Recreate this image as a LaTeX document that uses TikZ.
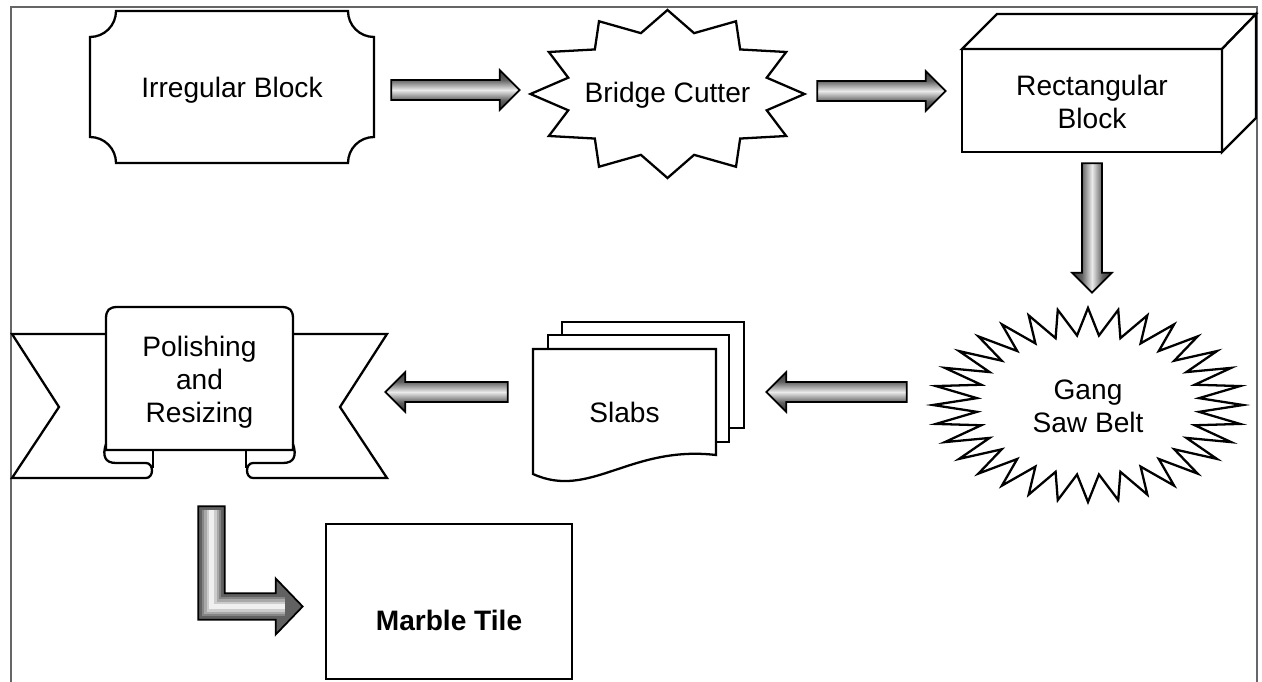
\documentclass[tikz,border=0pt]{standalone}
\usepackage{fontspec}
\setmainfont{Liberation Sans}
\usetikzlibrary{calc}

\pgfdeclareverticalshading{fatbar}{100bp}{color(0bp)=(black!78); color(25bp)=(black!78); color(37bp)=(black!62); color(50bp)=(black!8); color(63bp)=(black!62); color(75bp)=(black!78); color(100bp)=(black!78)}

\tikzset{
  outline/.style={draw=black, line width=1.3pt, fill=white},
  boxtext/.style={font=\fontsize{16}{18.8}\selectfont, align=center, inner sep=0pt},
  fatarrow/.style={draw=black, line width=1pt, shade, shading=fatbar},
  bentfill/.style={draw=black, line width=1pt, fill=black!62},
  bentglow/.style={line join=miter, preaction={draw=black!48, line width=0.40cm},
    preaction={draw=black!34, line width=0.30cm}, preaction={draw=black!20, line width=0.20cm},
    draw=black!6, line width=0.10cm},
  frameline/.style={draw=black!60, line width=0.9pt}
}

% straight block arrow from #2 to #3
\newcommand\blockarrow[3][]{%
  \path[fatarrow,#1] let \p1=#2, \p2=#3, \n1={atan2(\y2-\y1,\x2-\x1)} in
    ($(\p1)+(\n1+90:5.7pt)$) -- ($(\p2)+(\n1+180:11.3pt)+(\n1+90:5.7pt)$)
    -- ($(\p2)+(\n1+180:11.3pt)+(\n1+90:11.3pt)$) -- (\p2)
    -- ($(\p2)+(\n1+180:11.3pt)+(\n1-90:11.3pt)$) -- ($(\p2)+(\n1+180:11.3pt)+(\n1-90:5.7pt)$)
    -- ($(\p1)+(\n1-90:5.7pt)$) -- cycle;
}

% down-then-right block arrow
\newcommand\bentarrow[2]{%
  \path[bentfill] let \p1=#1, \p2=#2 in
    (\x1-7.6pt,\y1) -- (\x1+7.6pt,\y1) -- (\x1+7.6pt,\y2+7.6pt) -- (\x2-15.3pt,\y2+7.6pt)
    -- (\x2-15.3pt,\y2+15.9pt) -- (\p2) -- (\x2-15.3pt,\y2-15.9pt) -- (\x2-15.3pt,\y2-7.6pt)
    -- (\x1-7.6pt,\y2-7.6pt) -- cycle;
  \path[bentglow] let \p1=#1, \p2=#2 in (\x1,\y1-2pt) |- (\x2-10pt,\y2);
}

\begin{document}
\begin{tikzpicture}[x=0.02cm, y=-0.02cm]
\useasboundingbox (0,0) rectangle (1262,682);
\draw[frameline] (11,682) |- (1257,7) -- (1257,682);

% irregular block
\draw[outline] (116,11) -- (348,11) .. controls (348,25.4) and (359.6,37) .. (374,37)
  -- (374,137) .. controls (359.6,137) and (348,148.6) .. (348,163)
  -- (116,163) .. controls (116,148.6) and (104.4,137) .. (90,137)
  -- (90,37) .. controls (104.4,37) and (116,25.4) .. (116,11) -- cycle;

% bridge cutter
\draw[outline] plot[domain=0:360, samples=25]
  ({667.5+137*(0.875+0.125*cos(12*\x))*cos(\x)}, {94+84*(0.875+0.125*cos(12*\x))*sin(\x)}) -- cycle;

% rectangular block
\draw[outline] (962,49) rectangle (1222,152);
\draw[outline] (962,49) -- (997,14) -- (1256,14) -- (1222,49) -- cycle;
\draw[outline] (1222,49) -- (1256,14) -- (1256,118) -- (1222,152) -- cycle;

% gang saw belt
\draw[outline] plot[domain=0:360, samples=65]
  ({1088+155*(0.86+0.14*cos(32*\x))*cos(\x)}, {405+97*(0.86+0.14*cos(32*\x))*sin(\x)}) -- cycle;

% slabs
\draw[outline] (562,322) rectangle (744,428);
\draw[outline] (548,335) rectangle (729,442);
\draw[outline] (533,474) -- (533,349) -- (716,349) -- (716,455)
  .. controls (630,445) and (590,500) .. (533,474) -- cycle;

% polishing banner
\foreach \s in {1,-1}{
  \begin{scope}[shift={({199.5*(1-\s)},0)}, xscale=\s]
    \fill[white] (153,334) -- (12,334) -- (59,407) -- (12,478) -- (153,478) -- cycle;
    \draw[outline, fill=none] (106,334) -- (12,334) -- (59,407) -- (12,478) -- (146,478)
      .. controls (154,478) and (154,463) .. (146,463);
  \end{scope}
}
\draw[outline] (106,450) -- (106,319) .. controls (106,310) and (109,307) .. (118,307)
  -- (281,307) .. controls (290,307) and (293,310) .. (293,319) -- (293,450) -- cycle;
\foreach \s in {1,-1}{
  \begin{scope}[shift={({199.5*(1-\s)},0)}, xscale=\s]
    \draw[outline, fill=none] (106,444) .. controls (102,456) and (105,463) .. (116,463) -- (146,463);
    \draw[outline] (153,450) -- (153,468);
  \end{scope}
}

% marble tile
\draw[outline] (326,524) rectangle (572,679);

\node[boxtext, minimum width=5.68cm, minimum height=3.04cm] (irr) at (232,90) {Irregular Block};
\node[boxtext, minimum width=5.5cm, minimum height=3.36cm] (bc) at (667.5,95) {Bridge Cutter};
\node[boxtext, minimum width=5.2cm, minimum height=2.06cm] (rect) at (1092,101.5) {Rectangular\\Block};
\node[boxtext, minimum width=6.2cm, minimum height=3.88cm] (gang) at (1088,406) {Gang\\Saw Belt};
\node[boxtext, minimum width=3.66cm, minimum height=2.64cm] (slabs) at (624.5,412.5) {Slabs};
\node[boxtext, minimum width=3.74cm, minimum height=2.86cm] (polish) at (199.5,382) {Polishing\\and\\Resizing};
\node[boxtext, font=\fontsize{16}{18.8}\selectfont\bfseries, minimum width=4.92cm] (tile) at (449,620.5) {Marble Tile};

\blockarrow{($(irr.east)+(17,0)$)}{($(irr.east -| bc.west)+(-10,0)$)}
\blockarrow{($(bc.east)+(12,-4)$)}{($(bc.east -| rect.west)+(-16,-4)$)}
\blockarrow[shading angle=90]{($(rect.south)+(0,10)$)}{($(rect.south |- gang.north)+(0,-16)$)}
\blockarrow{($(gang.west)+(-26,-14)$)}{($(slabs.east)+(50,-20.5)$)}
\blockarrow{($(slabs.west)+(-25,-20.5)$)}{($(polish.east)+(92,10)$)}
\bentarrow{($(polish.south)+(12,52.5)$)}{($(tile.west)+(-23,-14)$)}
\end{tikzpicture}
\end{document}
